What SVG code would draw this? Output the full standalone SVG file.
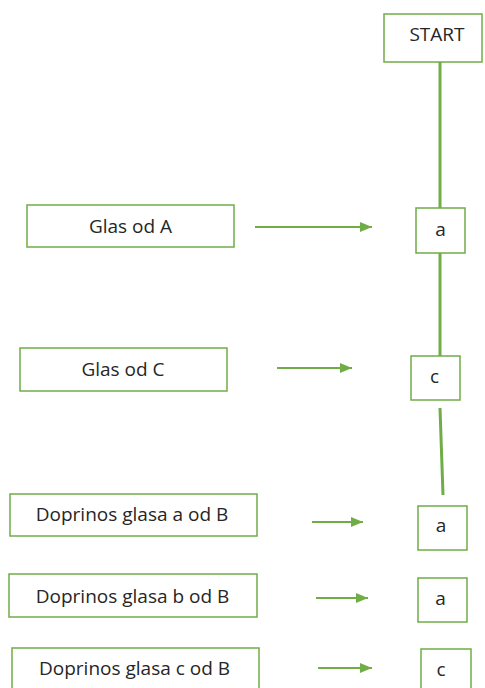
<svg xmlns="http://www.w3.org/2000/svg" width="485" height="688" viewBox="0 0 485 688">
<style>
.box{fill:#fff;stroke:#70AD47;stroke-width:1.5}
.t{font-family:"Open Sans","Liberation Sans",sans-serif;font-size:19px;fill:#262626;text-anchor:middle}
.arr{stroke:#70AD47;stroke-width:1.8;fill:none;marker-end:url(#ah)}
.flow{stroke:#70AD47;stroke-width:3;fill:none}
</style>
<defs>
<marker id="ah" viewBox="0 0 12 10" refX="12" refY="5" markerWidth="12" markerHeight="10" markerUnits="userSpaceOnUse" orient="auto">
<path d="M0,0 L12,5 L0,10 Z" fill="#70AD47"/>
</marker>
</defs>
<rect width="485" height="688" fill="#fff"/>
<g id="connectors">
<line class="flow" x1="440" y1="62" x2="440" y2="208"/>
<line class="flow" x1="440" y1="253" x2="440" y2="356"/>
<line class="flow" x1="440" y1="408" x2="443" y2="495"/>
<line class="arr" x1="255" y1="227" x2="372" y2="227"/>
<line class="arr" x1="277" y1="368" x2="352" y2="368"/>
<line class="arr" x1="312" y1="522" x2="363" y2="522"/>
<line class="arr" x1="316" y1="598" x2="368" y2="598"/>
<line class="arr" x1="318" y1="668" x2="372" y2="668"/>
</g>
<g id="start"><rect class="box" x="384" y="14" width="98" height="48"/><text class="t" x="437" y="41">START</text></g>
<g id="glasA"><rect class="box" x="27" y="205" width="207" height="42"/><text class="t" x="130.5" y="233">Glas od A</text></g>
<g id="boxA1"><rect class="box" x="416" y="208" width="49" height="45"/><text class="t" x="440.5" y="236">a</text></g>
<g id="glasC"><rect class="box" x="20" y="348" width="207" height="43"/><text class="t" x="123" y="376">Glas od C</text></g>
<g id="boxC1"><rect class="box" x="411" y="356" width="49" height="44"/><text class="t" x="434.5" y="383">c</text></g>
<g id="doprA"><rect class="box" x="10" y="494" width="247" height="42"/><text class="t" x="132" y="521">Doprinos glasa a od B</text></g>
<g id="boxA2"><rect class="box" x="418" y="506" width="49" height="44"/><text class="t" x="441" y="532">a</text></g>
<g id="doprB"><rect class="box" x="9" y="574" width="248" height="43"/><text class="t" x="132.5" y="603">Doprinos glasa b od B</text></g>
<g id="boxA3"><rect class="box" x="418" y="578" width="49" height="44"/><text class="t" x="440.5" y="605">a</text></g>
<g id="doprC"><rect class="box" x="12" y="648" width="247" height="44"/><text class="t" x="134.5" y="675">Doprinos glasa c od B</text></g>
<g id="boxC2"><rect class="box" x="421" y="649" width="50" height="44"/><text class="t" x="441" y="676">c</text></g>
</svg>
